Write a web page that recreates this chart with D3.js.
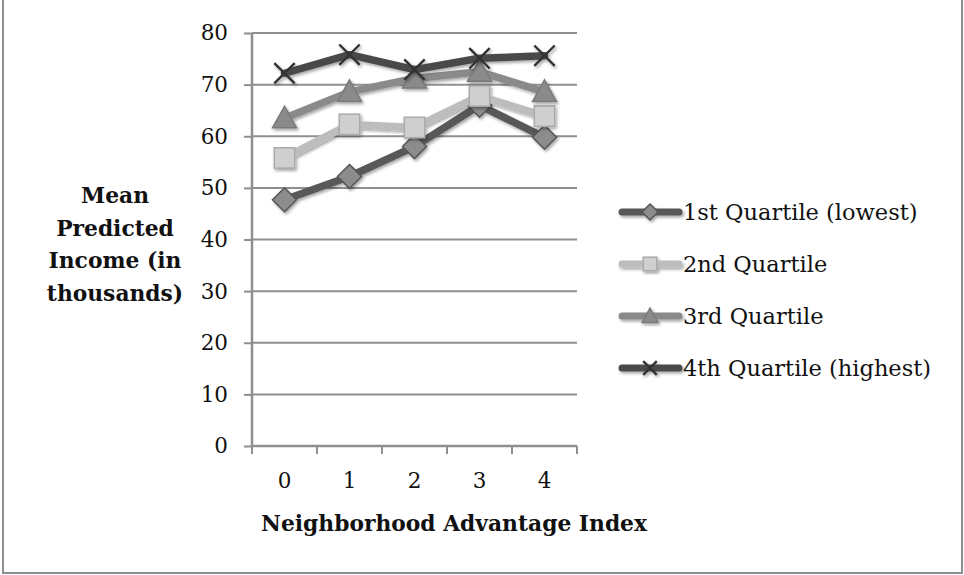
<!DOCTYPE html>
<html><head><meta charset="utf-8">
<script src="https://cdn.jsdelivr.net/npm/d3@7"></script>
<style>body{margin:0;background:#fff}svg{display:block}</style>
</head><body>
<svg id="c" width="964" height="575"></svg>
<script>
const categories = ["0","1","2","3","4"];
const seriesNames = ["1st Quartile (lowest)","2nd Quartile","3rd Quartile","4th Quartile (highest)"];
const q1 = [47.7, 52.2, 58.0, 66.0, 59.8];
const q2 = [55.8, 62.3, 61.7, 67.8, 63.9];
const q3 = [63.5, 68.6, 71.2, 72.5, 68.6];
const q4 = [72.2, 75.8, 72.9, 75.1, 75.6];
const yTicks = [0,10,20,30,40,50,60,70,80];
const xTitle = "Neighborhood Advantage Index";
const yTitle = ["Mean","Predicted","Income (in","thousands)"];

const seriesVals = [q1,q2,q3,q4];
const lineColors = ["#585858","#bdbdbd","#8a8a8a","#4a4a4a"];
const markerFill = ["#8c8c8c","#cfcfcf","#8a8a8a","#4a4a4a"];
const markerStroke = ["#555","#aaa","#7a7a7a","#333"];
const markerTypes = ["diamond","square","triangle","x"];

const svg = d3.select("#c");
const font = "'DejaVu Serif', serif";
const defs = svg.append("defs");
const f = defs.append("filter").attr("id","sh").attr("x","-30%").attr("y","-30%").attr("width","160%").attr("height","160%");
f.append("feDropShadow").attr("dx",1.5).attr("dy",2).attr("stdDeviation",1.6).attr("flood-color","#000").attr("flood-opacity",0.35);

// outer frame
svg.append("rect").attr("x",3).attr("y",-5).attr("width",959).attr("height",578)
  .attr("fill","none").attr("stroke","#8f8f8f").attr("stroke-width",2);

const x = d3.scaleBand().domain(categories).range([252,577]);
const y = d3.scaleLinear().domain([0,80]).range([446,33]);

// gridlines
svg.append("g").selectAll("line").data(yTicks.filter(d=>d>0)).join("line")
  .attr("x1",252).attr("x2",577).attr("y1",d=>y(d)).attr("y2",d=>y(d))
  .attr("stroke","#8f8f8f").attr("stroke-width",2);

// y axis
const ya = svg.append("g").attr("transform","translate(252,0)")
  .call(d3.axisLeft(y).tickValues(yTicks).tickSize(8).tickPadding(16));
ya.select(".domain").attr("stroke","#8f8f8f").attr("stroke-width",2.5).attr("d","M0,"+y(80)+"V"+y(0));
ya.selectAll(".tick line").attr("stroke","#8f8f8f").attr("stroke-width",2);
ya.selectAll("text").attr("font-family",font).attr("font-size",21.5).attr("fill","#111");

// x axis
const xa = svg.append("g").attr("transform","translate(0,446)")
  .call(d3.axisBottom(x).tickSize(0).tickPadding(27));
xa.select(".domain").attr("stroke","#8f8f8f").attr("stroke-width",2.5).attr("d","M252,0H577");
xa.selectAll("text").attr("font-family",font).attr("font-size",21.5).attr("fill","#111");
const edges = categories.map(c=>x(c)).concat([x(categories[categories.length-1])+x.bandwidth()]);
xa.append("g").selectAll("line").data(edges).join("line")
  .attr("x1",d=>d).attr("x2",d=>d).attr("y1",0).attr("y2",8)
  .attr("stroke","#8f8f8f").attr("stroke-width",2);

// titles
svg.append("text").attr("x",454).attr("y",531).attr("text-anchor","middle")
  .attr("font-family",font).attr("font-weight","bold").attr("font-size",21.8).attr("fill","#111").text(xTitle);
svg.append("g").selectAll("text").data(yTitle).join("text")
  .attr("x",115).attr("y",(d,i)=>203+i*32.5).attr("text-anchor","middle")
  .attr("font-family",font).attr("font-weight","bold").attr("font-size",21.8).attr("fill","#111").text(d=>d);

function marker(g, type, i, s){
  if(type==="diamond"){
    g.append("path").attr("d",`M0,${-s}L${s},0L0,${s}L${-s},0Z`).attr("fill",markerFill[i]).attr("stroke",markerStroke[i]).attr("stroke-width",1.5);
  } else if(type==="square"){
    const h=s*0.85;
    g.append("rect").attr("x",-h).attr("y",-h).attr("width",2*h).attr("height",2*h).attr("fill",markerFill[i]).attr("stroke",markerStroke[i]).attr("stroke-width",1.5);
  } else if(type==="triangle"){
    g.append("path").attr("d",`M0,${-s}L${s},${s*0.8}L${-s},${s*0.8}Z`).attr("fill",markerFill[i]).attr("stroke",markerStroke[i]).attr("stroke-width",1.5);
  } else {
    const h=s*0.85;
    g.append("path").attr("d",`M${-h},${-h}L${h},${h}M${-h},${h}L${h},${-h}`).attr("stroke","#333").attr("stroke-width",2.4).attr("fill","none");
  }
}

const line = d3.line().x((d,j)=>x(categories[j])+x.bandwidth()/2).y(d=>y(d));
seriesVals.forEach((vals,i)=>{
  const g = svg.append("g").attr("filter","url(#sh)");
  g.append("path").datum(vals).attr("d",line).attr("fill","none")
    .attr("stroke",lineColors[i]).attr("stroke-width",7.5).attr("stroke-linejoin","round").attr("stroke-linecap","round");
  vals.forEach((v,j)=>{
    const mg = g.append("g").attr("transform",`translate(${x(categories[j])+x.bandwidth()/2},${y(v)})`);
    marker(mg, markerTypes[i], i, 12);
  });
});

// legend
const lg = svg.append("g");
seriesNames.forEach((n,i)=>{
  const yy = 212 + i*52;
  const g = lg.append("g").attr("filter","url(#sh)");
  g.append("line").attr("x1",622).attr("x2",679).attr("y1",yy).attr("y2",yy)
    .attr("stroke",lineColors[i]).attr("stroke-width",7).attr("stroke-linecap","round");
  const mg = g.append("g").attr("transform",`translate(650,${yy})`);
  marker(mg, markerTypes[i], i, 8);
  lg.append("text").attr("x",683).attr("y",yy+8).attr("font-family",font).attr("font-size",22.5)
    .attr("fill","#111").text(n);
});
</script>
</body></html>
